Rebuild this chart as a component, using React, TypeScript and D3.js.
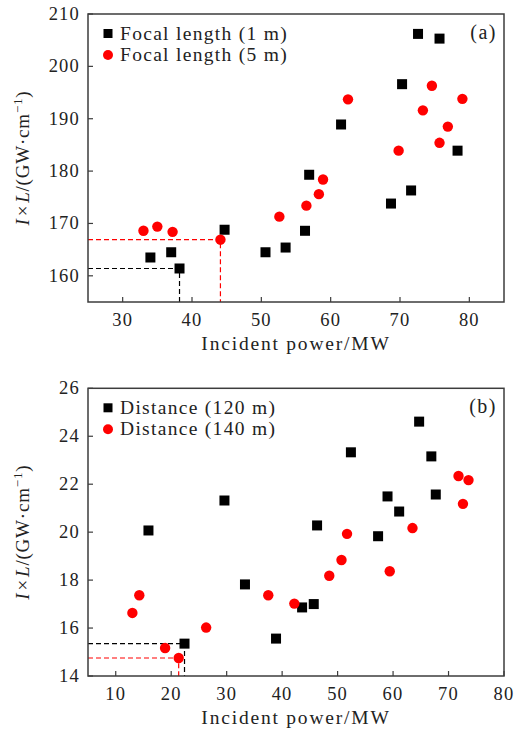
import React from "react";
import * as d3 from "d3";

// Panel (a): focal length
const focal1X = [34.0, 37.0, 38.2, 44.7, 50.6, 53.5, 56.3, 56.9, 61.5, 68.7, 70.3, 71.6, 72.6, 75.7, 78.3];
const focal1Y = [163.5, 164.5, 161.4, 168.8, 164.5, 165.4, 168.6, 179.3, 188.9, 173.8, 196.6, 176.3, 206.2, 205.3, 183.9];
const focal5X = [33.0, 35.0, 37.2, 44.1, 52.6, 56.5, 58.3, 58.9, 62.5, 69.8, 73.3, 74.6, 75.7, 76.9, 79.0];
const focal5Y = [168.6, 169.4, 168.4, 166.9, 171.3, 173.4, 175.6, 178.4, 193.7, 183.9, 191.6, 196.3, 185.4, 188.5, 193.8];
const focalRefBlack = [38.2, 161.4];
const focalRefRed = [44.1, 166.9];
const aXTicks = [30, 40, 50, 60, 70, 80];
const aYTicks = [160, 170, 180, 190, 200, 210];
const aXDomain = [25, 85];
const aYDomain = [155, 210];

// Panel (b): distance
const dist120X = [15.9, 22.4, 29.6, 33.3, 38.9, 43.6, 45.7, 46.3, 52.4, 57.3, 59.0, 61.1, 64.7, 66.9, 67.7];
const dist120Y = [20.07, 15.35, 21.32, 17.82, 15.56, 16.86, 17.0, 20.28, 23.33, 19.83, 21.49, 20.86, 24.61, 23.16, 21.57];
const dist140X = [13.0, 14.25, 18.9, 21.35, 26.3, 37.5, 42.2, 48.5, 50.7, 51.7, 59.4, 63.5, 71.8, 72.6, 73.6];
const dist140Y = [16.63, 17.37, 15.17, 14.75, 16.02, 17.37, 17.02, 18.18, 18.84, 19.93, 18.37, 20.17, 22.34, 21.18, 22.17];
const distRefBlack = [22.4, 15.35];
const distRefRed = [21.35, 14.75];
const bXTicks = [10, 20, 30, 40, 50, 60, 70, 80];
const bYTicks = [14, 16, 18, 20, 22, 24, 26];
const bXDomain = [5, 80];
const bYDomain = [14, 26];

const FONT = "'Liberation Serif', 'Times New Roman', serif";
const RED = "#ff0000";
const FRAME = "#3c3c3c";

type PanelProps = {
  top: number;
  bottom: number;
  xDomain: number[];
  yDomain: number[];
  xTicks: number[];
  yTicks: number[];
  sqX: number[];
  sqY: number[];
  ciX: number[];
  ciY: number[];
  refBlack: number[];
  refRed: number[];
  legend1: string;
  legend2: string;
  tag: string;
};

function Panel(p: PanelProps) {
  const left = 88;
  const right = 504;
  const x = d3.scaleLinear().domain(p.xDomain).range([left, right]);
  const y = d3.scaleLinear().domain(p.yDomain).range([p.bottom, p.top]);
  const sq = 10;
  const r = 5.2;
  const midY = (p.top + p.bottom) / 2;
  const dash = "5,3";
  return (
    <g fontFamily={FONT}>
      {/* dashed reference lines */}
      <path
        d={`M${left},${y(p.refBlack[1])}H${x(p.refBlack[0])}V${p.bottom}`}
        fill="none"
        stroke="#000"
        strokeWidth={1.2}
        strokeDasharray={dash}
      />
      <path
        d={`M${left},${y(p.refRed[1])}H${x(p.refRed[0])}V${p.bottom}`}
        fill="none"
        stroke={RED}
        strokeWidth={1.2}
        strokeDasharray={dash}
      />
      {/* ticks */}
      {p.xTicks.map((t) => (
        <g key={"xt" + t}>
          <line x1={x(t)} x2={x(t)} y1={p.bottom} y2={p.bottom - 5} stroke={FRAME} strokeWidth={1.2} />
          <text x={x(t)} y={p.bottom + 24} textAnchor="middle" fontSize={18.5} letterSpacing={1.2} fill="#222">
            {t}
          </text>
        </g>
      ))}
      {p.yTicks.map((t) => (
        <g key={"yt" + t}>
          <line x1={left} x2={left + 5} y1={y(t)} y2={y(t)} stroke={FRAME} strokeWidth={1.2} />
          <text x={80} y={y(t) + 6} textAnchor="end" fontSize={18.5} letterSpacing={1.2} fill="#222">
            {t}
          </text>
        </g>
      ))}
      {/* points */}
      {p.sqX.map((v, i) => (
        <rect key={"s" + i} x={x(v) - sq / 2} y={y(p.sqY[i]) - sq / 2} width={sq} height={sq} fill="#000" />
      ))}
      {p.ciX.map((v, i) => (
        <circle key={"c" + i} cx={x(v)} cy={y(p.ciY[i])} r={r} fill={RED} />
      ))}
      {/* frame */}
      <rect x={left} y={p.top} width={right - left} height={p.bottom - p.top} fill="none" stroke={FRAME} strokeWidth={1.5} />
      {/* legend */}
      <rect x={108 - 4.5} y={p.top + 19.5 - 4.5} width={9} height={9} fill="#000" />
      <circle cx={108} cy={p.top + 41} r={5} fill={RED} />
      <text x={120} y={p.top + 26} fontSize={19.5} letterSpacing={1.3} fill="#222">
        {p.legend1}
      </text>
      <text x={120} y={p.top + 47} fontSize={19.5} letterSpacing={1.3} fill="#222">
        {p.legend2}
      </text>
      <text x={497} y={p.top + 25} textAnchor="end" fontSize={20} letterSpacing={1.5} fill="#222">
        {p.tag}
      </text>
      {/* axis titles */}
      <text x={(left + right) / 2} y={p.bottom + 48} textAnchor="middle" fontSize={19.5} letterSpacing={1.8} fill="#222">
        Incident power/MW
      </text>
      <text
        transform={`translate(29,${midY}) rotate(-90)`}
        textAnchor="middle"
        fontSize={19}
        letterSpacing={0.8}
        fill="#222"
      >
        <tspan fontStyle="italic">I</tspan>
        <tspan dx={2}>×</tspan>
        <tspan dx={2} fontStyle="italic">L</tspan>
        <tspan>/(GW·cm</tspan>
        <tspan fontSize={13} dy={-7}>−1</tspan>
        <tspan dy={7}>)</tspan>
      </text>
    </g>
  );
}

export default function App() {
  return (
    <svg
      width={520}
      height={730}
      style={{ position: "absolute", left: 0, top: 0, background: "#fff" }}
    >
      <rect width={520} height={730} fill="#fff" />
      <Panel
        top={14}
        bottom={302}
        xDomain={aXDomain}
        yDomain={aYDomain}
        xTicks={aXTicks}
        yTicks={aYTicks}
        sqX={focal1X}
        sqY={focal1Y}
        ciX={focal5X}
        ciY={focal5Y}
        refBlack={focalRefBlack}
        refRed={focalRefRed}
        legend1="Focal length (1 m)"
        legend2="Focal length (5 m)"
        tag="(a)"
      />
      <Panel
        top={388.3}
        bottom={676}
        xDomain={bXDomain}
        yDomain={bYDomain}
        xTicks={bXTicks}
        yTicks={bYTicks}
        sqX={dist120X}
        sqY={dist120Y}
        ciX={dist140X}
        ciY={dist140Y}
        refBlack={distRefBlack}
        refRed={distRefRed}
        legend1="Distance (120 m)"
        legend2="Distance (140 m)"
        tag="(b)"
      />
    </svg>
  );
}
